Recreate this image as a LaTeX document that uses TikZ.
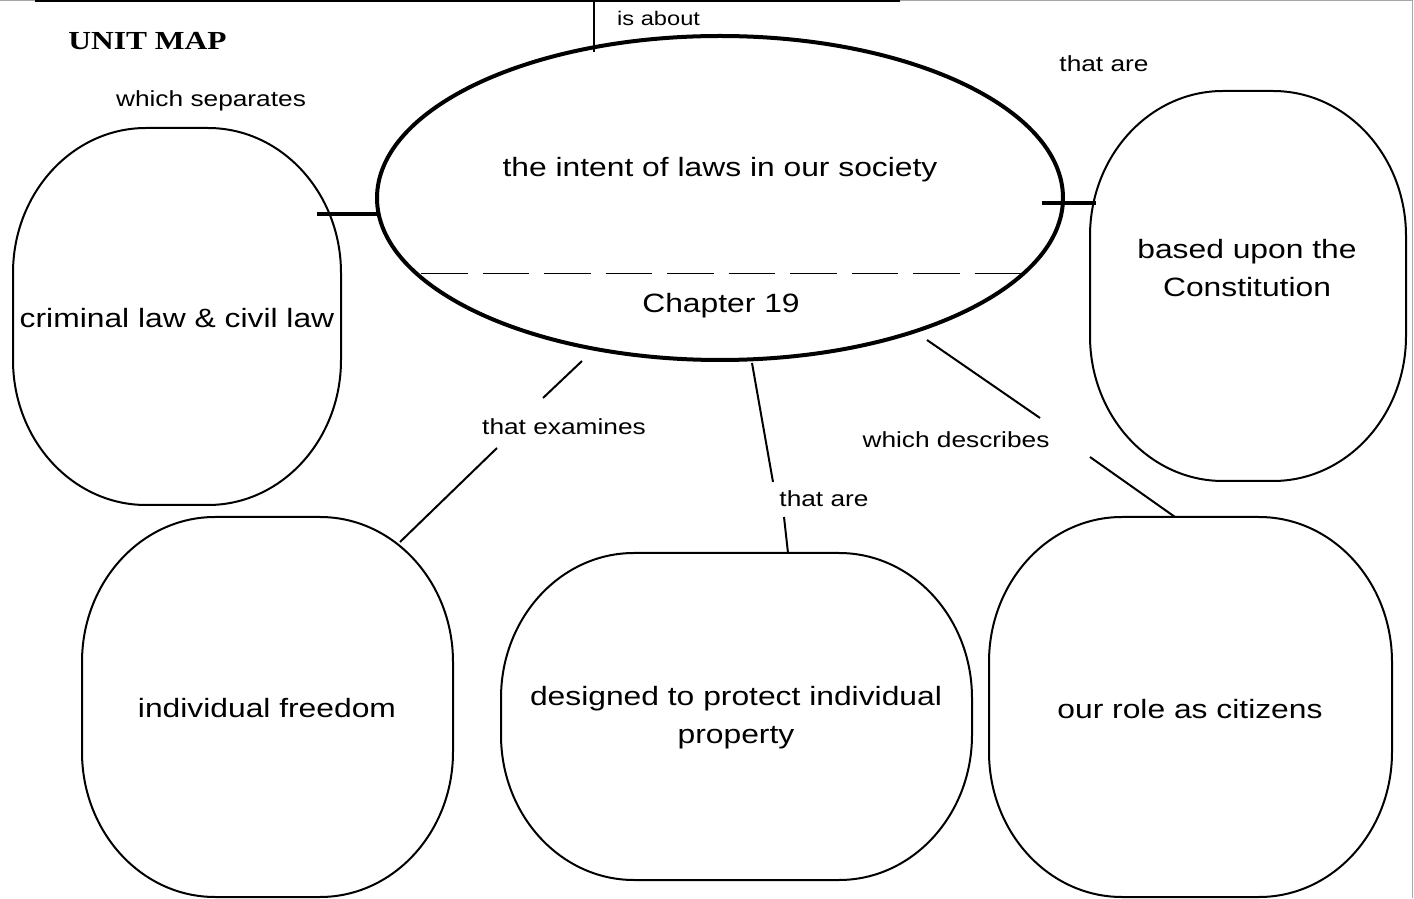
\documentclass[tikz,border=0pt]{standalone}
\usepackage{fontspec}
\newfontfamily\sansw[FakeStretch=1.2]{Liberation Sans}
\newfontfamily\serifw[FakeStretch=1.21]{Liberation Serif}
\newcommand\RX{133}
\newcommand\RY{145}
% rounded box: left, top, right, bottom (pixel coords, y down)
\newcommand\rbx[4]{%
  \draw[boxline] ({#3-\RX},{898-#2}) arc[start angle=90,end angle=0,x radius=\RX,y radius=\RY]
    -- ({#3},{898-#4+\RY}) arc[start angle=0,end angle=-90,x radius=\RX,y radius=\RY]
    -- ({#1+\RX},{898-#4}) arc[start angle=270,end angle=180,x radius=\RX,y radius=\RY]
    -- ({#1},{898-#2-\RY}) arc[start angle=180,end angle=90,x radius=\RX,y radius=\RY]
    -- cycle;}
\begin{document}
\begin{tikzpicture}[x=1pt,y=1pt,
  boxline/.style={line width=2pt},
  conn/.style={line width=2pt},
  bar/.style={line width=3.2pt},
  maintext/.style={font=\sansw\fontsize{26.5}{38}\selectfont,align=center,inner sep=0pt},
  lbl/.style={font=\sansw\fontsize{21.9}{25}\selectfont,inner sep=0pt},
  smalllbl/.style={font=\sansw\fontsize{19.7}{23}\selectfont,inner sep=0pt}]
\useasboundingbox (0,0) rectangle (1414,898);
% page edges
\draw[gray!70,line width=1pt] (0,897.5) -- (1412.5,897.5) -- (1412.5,0);
\draw[line width=2pt] (35,897) -- (900,897);
% title
\node[font=\serifw\bfseries\fontsize{26}{30}\selectfont,inner sep=0pt] (title) at (147.5,857) {UNIT MAP};
% main ellipse
\draw[line width=4pt] (720,700) ellipse[x radius=343,y radius=162];
\draw[line width=1pt,dash pattern=on 46.5pt off 15pt] (421,624) -- (1021,624);
\node[maintext] (intent) at (720,728) {the intent of laws in our society};
\node[maintext] (chap) at (721,592) {Chapter 19};
% boxes
\rbx{13}{128}{341}{505}
\rbx{1090}{91}{1406}{481}
\rbx{82}{517}{453}{897}
\rbx{501}{553}{972}{880}
\rbx{989}{517}{1392}{897}
\node[maintext] (crim) at (177,580) {criminal law \& civil law};
\node[maintext] (const) at (1247,630) {based upon the\\Constitution};
\node[maintext] (free) at (267,190) {individual freedom};
\node[maintext] (prop) at (736,180) {designed to protect individual\\property};
\node[maintext] (role) at (1190,189) {our role as citizens};
% labels
\node[smalllbl,anchor=west] (about) at (617,880) {is about};
\node[lbl] (sep) at (211,797) {which separates};
\node[lbl] (arer) at (1104,834) {that are};
\node[lbl] (exam) at (564,471) {that examines};
\node[lbl] (arem) at (824,399) {that are};
\node[lbl] (desc) at (956,458) {which describes};
% connector end points
\coordinate (a1) at (594,898); \coordinate (a2) at (594,846);
\coordinate (s1) at (317,684); \coordinate (s2) at (378,684);
\coordinate (r1) at (1042,695); \coordinate (r2) at (1096,695);
\coordinate (e1) at (582,537); \coordinate (e2) at (543,500);
\coordinate (e3) at (497,450); \coordinate (e4) at (400,356);
\coordinate (m1) at (752,535); \coordinate (m2) at (773,416);
\coordinate (m3) at (784,381); \coordinate (m4) at (788,345);
\coordinate (d1) at (927,558); \coordinate (d2) at (1040,480);
\coordinate (d3) at (1090,441); \coordinate (d4) at (1175,381);
\draw[conn] (a1) -- (a2);
\draw[bar] (s1) -- (s2);
\draw[bar] (r1) -- (r2);
\draw[conn] (e1) -- (e2);
\draw[conn] (e3) -- (e4);
\draw[conn] (m1) -- (m2);
\draw[conn] (m3) -- (m4);
\draw[conn] (d1) -- (d2);
\draw[conn] (d3) -- (d4);
\end{tikzpicture}
\end{document}
